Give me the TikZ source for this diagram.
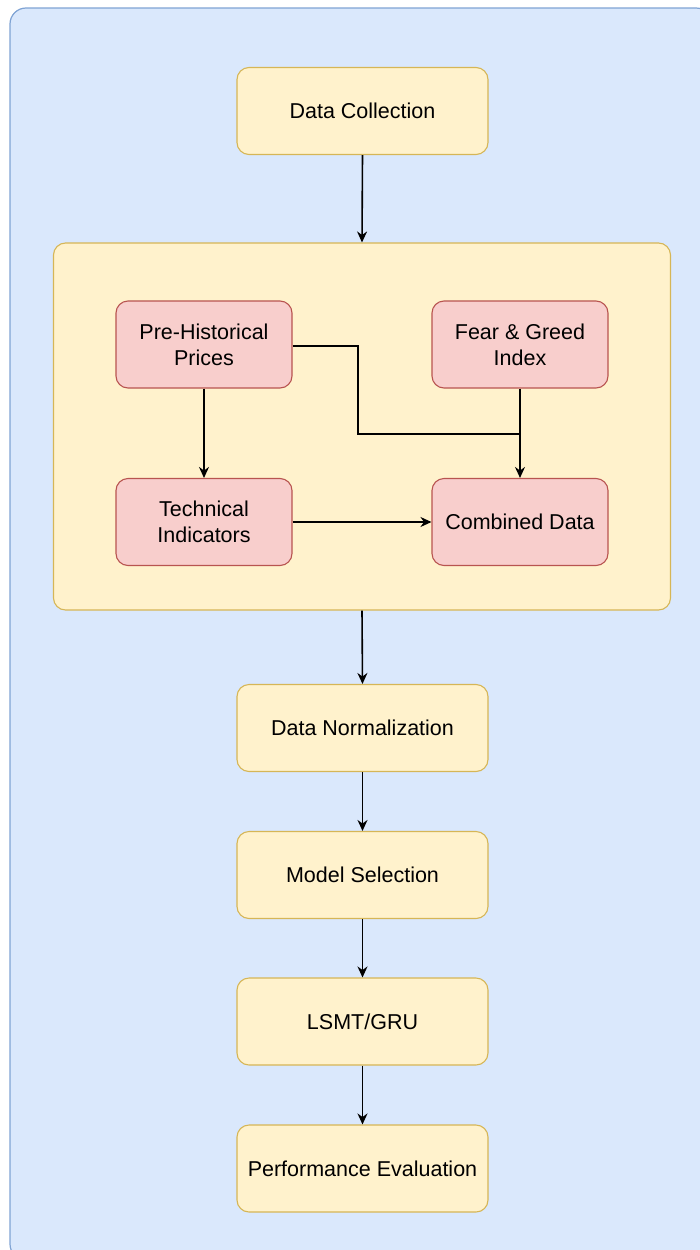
\documentclass[tikz,border=0pt]{standalone}
\usepackage{fontspec}
\setmainfont{Liberation Sans}
\usetikzlibrary{arrows.meta}

\definecolor{paneFill}{HTML}{DAE8FC}
\definecolor{paneLine}{HTML}{7FA3D4}
\definecolor{ylwFill}{HTML}{FFF2CC}
\definecolor{ylwLine}{HTML}{D6B656}
\definecolor{redFill}{HTML}{F8CECC}
\definecolor{redLine}{HTML}{B85450}

\tikzset{
  x=1pt, y=-1pt,
  stagebox/.style={draw=ylwLine, fill=ylwFill, line width=1.1pt, rounded corners=12pt,
    minimum width=251pt, minimum height=87pt, align=center, inner sep=0pt,
    font=\fontsize{21.5}{26}\selectfont},
  srcbox/.style={draw=redLine, fill=redFill, line width=1.1pt, rounded corners=12pt,
    minimum width=176pt, minimum height=87pt, align=center, inner sep=0pt,
    font=\fontsize{21.5}{26}\selectfont},
  flow/.style={draw=black, line width=1.6pt, -{Stealth[length=11pt,width=10pt]}},
  link/.style={draw=black, line width=1.6pt},
}

\begin{document}
\begin{tikzpicture}
\useasboundingbox (0,0) rectangle (700,1250);
\begin{scope}
  \clip (0,0) rectangle (700,1250);
  % background pane
  \draw[paneLine, fill=paneFill, line width=1.2pt, rounded corners=16pt] (10,8) rectangle (712,1260);
\end{scope}

% preprocessing container
\node[draw=ylwLine, fill=ylwFill, line width=1.1pt, rounded corners=12pt,
      minimum width=617pt, minimum height=367pt, inner sep=0pt] (prep) at (362,426.5) {};

% main pipeline
\node[stagebox] (collect) at (362.5,111) {Data Collection};
\node[stagebox] (norm)    at (362.5,728) {Data Normalization};
\node[stagebox] (model)   at (362.5,875) {Model Selection};
\node[stagebox] (rnn)     at (362.5,1021.5) {LSMT/GRU};
\node[stagebox] (perf)    at (362.5,1168.5) {Performance Evaluation};

% data sources inside the container
\node[srcbox] (prices)  at (204,344.5) {Pre-Historical\\Prices};
\node[srcbox] (fear)    at (520,344.5) {Fear \& Greed\\Index};
\node[srcbox] (tech)    at (204,522) {Technical\\Indicators};
\node[srcbox] (combine) at (520,522) {Combined Data};

\coordinate (bendA) at (358,346);
\coordinate (bendB) at (358,434);
\coordinate (joint) at (520,434);

% connectors
\draw[flow] (collect.south) -- (prep.north);
\draw[flow] (prep.south) -- (norm.north);
\draw[flow] (norm) -- (model);
\draw[flow] (model) -- (rnn);
\draw[flow] (rnn) -- (perf);

\draw[flow] (prices) -- (tech);
\draw[flow] (fear) -- (combine);
\draw[flow] (tech) -- (combine);
\draw[link] (prices.east |- bendA) -- (bendA) -- (bendB) -- (joint);
\end{tikzpicture}
\end{document}
